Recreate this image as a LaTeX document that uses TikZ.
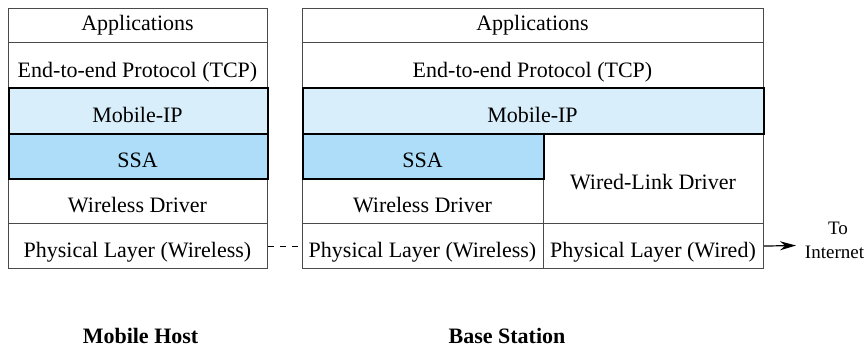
\documentclass[tikz,border=0pt]{standalone}
\usepackage{fontspec}
\setmainfont{Liberation Serif}
\newfontfamily\timesfam{Liberation Serif}
\usetikzlibrary{arrows.meta}
\definecolor{mipblue}{HTML}{D9EEFB}
\definecolor{ssablue}{HTML}{ADDDF8}
\definecolor{rulegray}{HTML}{4A4A4A}
\tikzset{
  cell/.style={draw=rulegray, line width=1.1pt, anchor=north west, inner sep=0pt, fill=white},
  hot/.style={draw=black, line width=2pt},
  mip/.style={hot, fill=mipblue},
  ssa/.style={hot, fill=ssablue},
  lbl/.style={anchor=base, inner sep=0pt, font=\timesfam\fontsize{22}{24}\selectfont},
  small/.style={anchor=base, inner sep=0pt, font=\timesfam\fontsize{19}{21}\selectfont},
  caption/.style={anchor=base, inner sep=0pt, font=\timesfam\fontsize{22}{24}\selectfont\bfseries},
}
% \layer{name}{x}{y}{width}{height}{extra style}
\newcommand{\layer}[6]{%
  \node[cell, #6, minimum width=#4pt, minimum height=#5pt] (#1) at (#2,#3) {};}
\begin{document}
\begin{tikzpicture}[x=1pt, y=-1pt]
\useasboundingbox (0,0) rectangle (867,349);

% ---- mobile host stack ----
\layer{lapp}{8}{8}{259}{34}{}
\layer{ltcp}{8}{42}{259}{45}{}
\layer{lwd}{8}{178}{259}{45}{}
\layer{lphy}{8}{223}{259}{45}{}
\layer{lmip}{8}{87}{259}{46}{mip}
\layer{lssa}{8}{133}{259}{45}{ssa}

% ---- base station stack ----
\layer{rapp}{302}{8}{461}{34}{}
\layer{rtcp}{302}{42}{461}{45}{}
\layer{rwd}{302}{178}{241}{45}{}
\layer{rwld}{543}{133}{220}{90}{}
\layer{rphy}{302}{223}{241}{45}{}
\layer{rphw}{543}{223}{220}{45}{}
\layer{rmip}{302}{87}{461}{46}{mip}
\layer{rssa}{302}{133}{241}{45}{ssa}

% ---- layer names ----
\node[lbl] (tlapp) at (137.5,30) {Applications};
\node[lbl] (tltcp) at (137.5,77) {End-to-end Protocol (TCP)};
\node[lbl] (tlmip) at (137.5,122) {Mobile-IP};
\node[lbl] (tlssa) at (137.5,167) {SSA};
\node[lbl] (tlwd) at (137.5,212) {Wireless Driver};
\node[lbl] (tlphy) at (137.5,257) {Physical Layer (Wireless)};

\node[lbl] (trapp) at (532.5,30) {Applications};
\node[lbl] (trtcp) at (532.5,77) {End-to-end Protocol (TCP)};
\node[lbl] (trmip) at (532.5,122) {Mobile-IP};
\node[lbl] (trssa) at (422.5,167) {SSA};
\node[lbl] (trwd) at (422.5,212) {Wireless Driver};
\node[lbl] (trwld) at (653,189) {Wired-Link Driver};
\node[lbl] (trphy) at (422.5,257) {Physical Layer (Wireless)};
\node[lbl] (trphw) at (653,257) {Physical Layer (Wired)};

% ---- links ----
\draw[draw=black, line width=1pt, dash pattern=on 6pt off 6pt] (lphy.east) -- (rphy.west);
\coordinate (tip) at (796,245.5);
\draw[line width=1.2pt, -{Stealth[length=16pt, width=9pt]}] (rphw.east) -- (tip);
\node[small] (tto) at (838,234) {To};
\node[small] (tnet) at (834.5,258) {Internet};

% ---- captions ----
\node[caption] (cmh) at (140.5,343) {Mobile Host};
\node[caption] (cbs) at (507,343) {Base Station};
\end{tikzpicture}
\end{document}
